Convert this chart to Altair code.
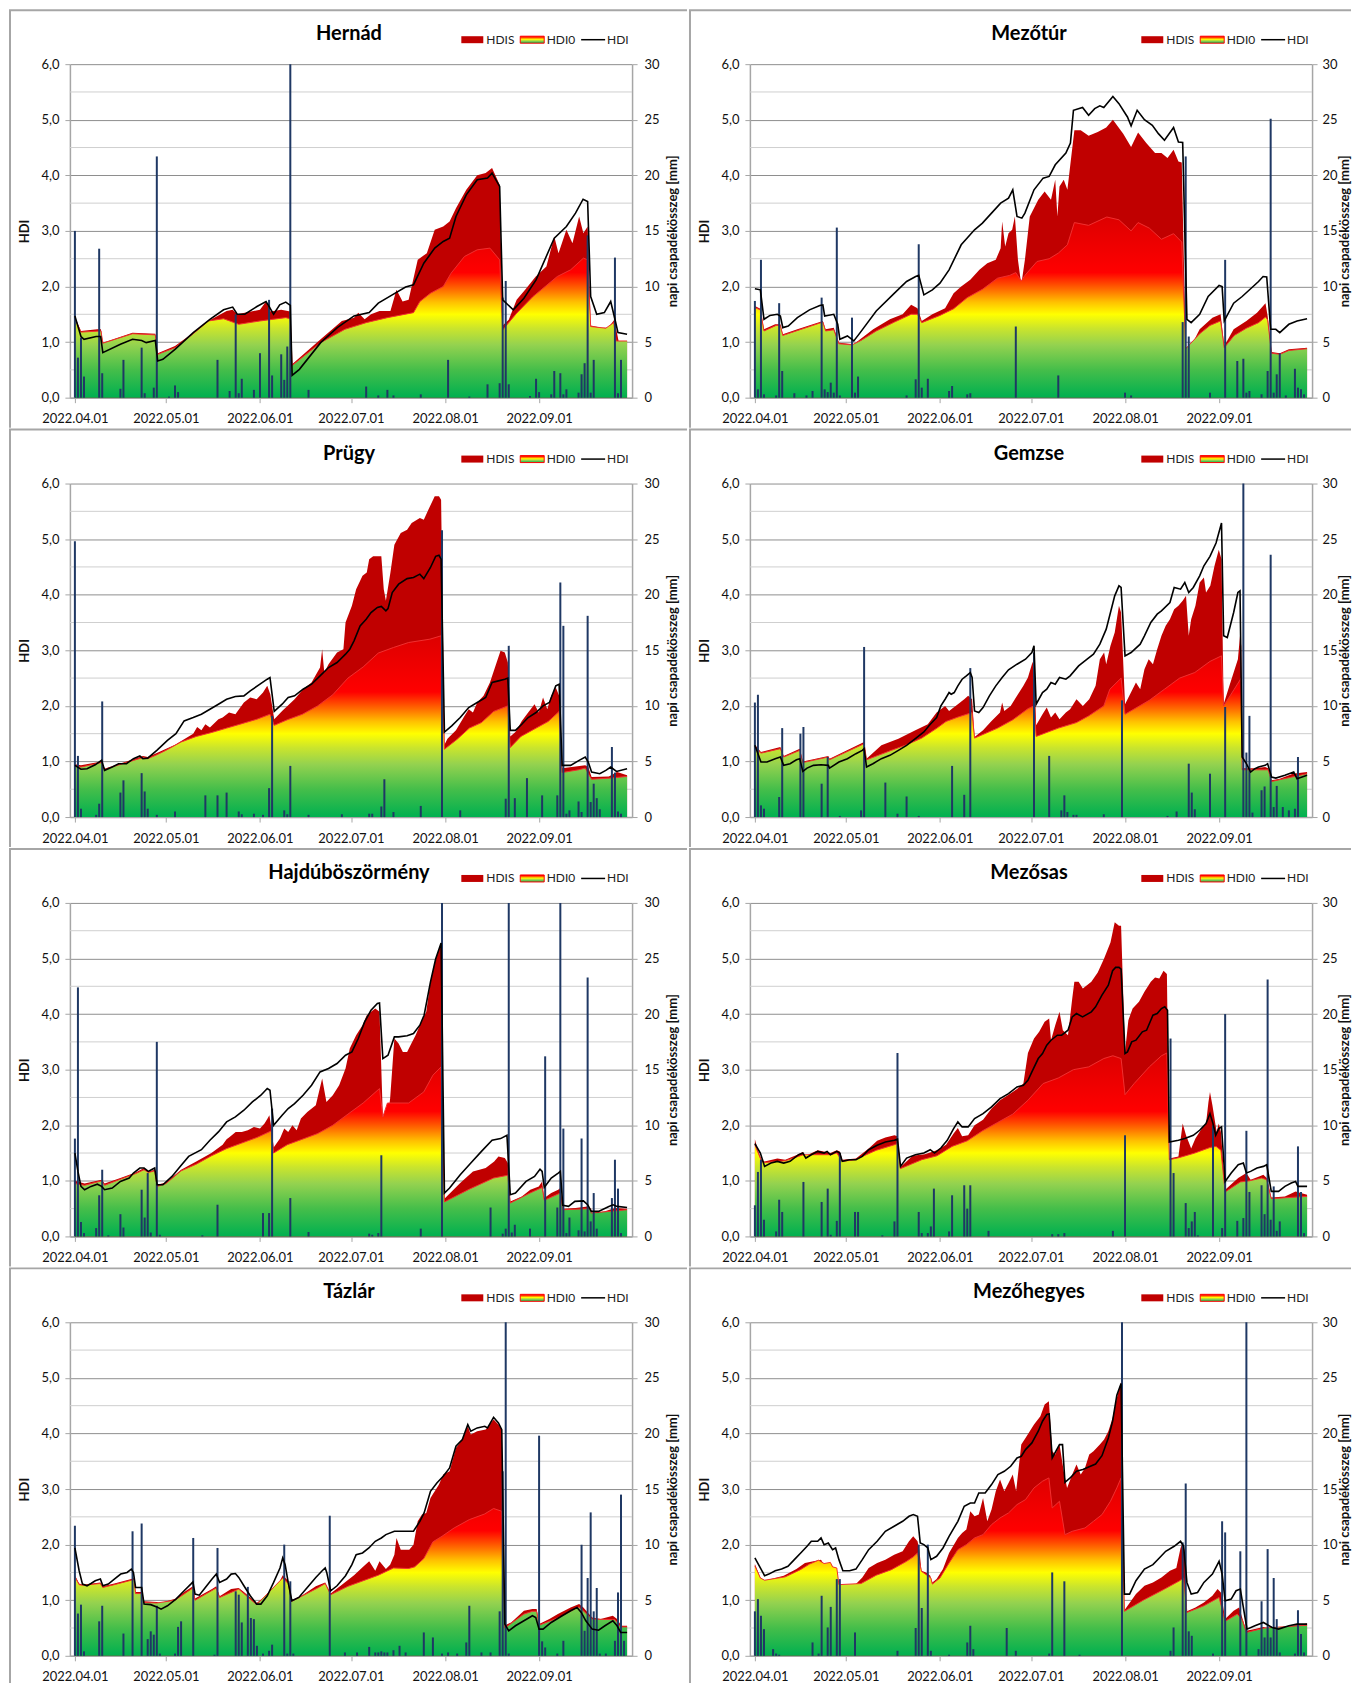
import altair as alt
import pandas as pd

# ---------------------------------------------------------------------------
# Values. "day" = days since 2022-04-01.
# HDI-type series: (day, HDI value); rain: (day, daily precipitation mm)
# ---------------------------------------------------------------------------
START = pd.Timestamp("2022-04-01")

TITLES = ["Hernád", "Mezőtúr", "Prügy", "Gemzse", "Hajdúböszörmény", "Mezősas", "Tázlár", "Mezőhegyes"]
Y_TICKS = [0, 1, 2, 3, 4, 5, 6]
Y_MINOR = [0.5, 1.5, 2.5, 3.5, 4.5, 5.5]
RAIN_TICKS = [0, 5, 10, 15, 20, 25, 30]
MONTH_STARTS = [4, 5, 6, 7, 8, 9]

HERNAD_HDI = [(0,1.47),(2,1.1),(3,1.05),(7,1.1),(8.5,1.1),(9.2,0.81),(15,0.96),(19,1.05),(22,1.03),(23.5,0.99),(26.5,1.03),(27.3,0.66),(29,0.69),(33,0.87),(39,1.17),(44.5,1.41),(49,1.58),(52,1.63),(53.5,1.5),(56,1.5),(60,1.64),(63,1.73),(64,1.64),(65.5,1.5),(67.5,1.67),(69.5,1.72),(71,1.66),(71.6,0.4),(74,0.51),(81,0.99),(86.5,1.26),(92,1.47),(97,1.53),(100,1.7),(104.6,1.85),(109,1.99),(111.6,2.03),(115,2.42),(118.6,2.69),(121.4,2.81),(123.5,2.87),(125.6,3.26),(129,3.65),(132.6,3.92),(136,3.95),(137.5,4.04),(140,3.8),(141,1.76),(144.5,1.58),(148,1.79),(152,2.12),(158,2.87),(162,3.08),(165,3.32),(167.5,3.57),(169,3.53),(170,1.82),(172,1.5),(174.5,1.53),(176.6,1.73),(178,1.41),(179,1.17),(182,1.14)]
HERNAD_HDIS = [(0,1.45),(2,1.2),(7.4,1.23),(8.6,1.23),(9.2,0.99),(19,1.17),(26.5,1.15),(27.3,0.8),(33,0.93),(39,1.17),(45,1.41),(50,1.56),(52,1.58),(53.5,1.5),(61,1.58),(63,1.73),(64.5,1.55),(68,1.58),(71,1.55),(71.6,0.6),(81,1.05),(88,1.38),(92,1.44),(93.4,1.53),(95.5,1.41),(97.6,1.5),(100.4,1.56),(104,1.56),(106,1.94),(108,1.73),(110,1.76),(113,2.48),(116,2.6),(118.6,3.02),(121.4,3.08),(123.5,3.17),(125.6,3.41),(129,3.74),(132.6,4.0),(135.4,4.04),(137.5,4.13),(140,3.83),(141,1.3),(143,1.4),(145.6,1.76),(148.4,1.94),(151.9,2.18),(155.4,2.36),(158,2.9),(159.4,2.6),(162,3.02),(164,2.78),(166.2,3.26),(167.6,2.96),(169,3.08),(170,1.3),(173.6,1.26),(175.8,1.26),(177.8,1.4),(179.2,1.02),(182,1.02)]
HERNAD_HDI0 = [(0,1.42),(2,1.18),(8.6,1.2),(9.2,0.98),(19,1.15),(26.5,1.13),(27.3,0.78),(33,0.9),(39,1.15),(44,1.38),(49,1.42),(54,1.32),(61,1.38),(69.5,1.44),(71,1.42),(71.6,0.58),(81,0.99),(89,1.23),(96,1.35),(103,1.44),(111.6,1.53),(113.7,1.73),(117.2,1.88),(121.4,2.0),(124,2.24),(128.4,2.54),(132.6,2.66),(136.8,2.69),(140,2.48),(141,1.22),(145.6,1.52),(151,1.82),(155,2.0),(159,2.18),(163.4,2.3),(167.6,2.51),(169,2.48),(170,1.28),(175,1.25),(177.6,1.35),(178.4,1.02),(182,1.02)]
HERNAD_RAIN = [(0,15.0),(1,3.6),(2,5.4),(3,1.9),(8,13.4),(9,2.2),(15,0.8),(16,3.4),(22,4.5),(23,0.4),(26,0.9),(27,21.7),(31,0.1),(33,1.1),(34,0.5),(47,3.4),(51,0.6),(53,7.5),(54,0.4),(55,1.7),(59,0.7),(61,4.0),(64,8.8),(65,2.0),(68,3.9),(69,1.6),(70,4.6),(71,32),(77,0.7),(96,1.0),(100,0.2),(103,0.7),(105,0.2),(114,0.3),(123,3.4),(130,0.1),(136,1.2),(140,1.3),(141,9.0),(142,10.5),(143,1.2),(150,0.15),(152,1.7),(153,0.5),(157,0.3),(158,2.4),(160,2.2),(161,0.3),(162,0.75),(166,0.45),(167,2.1),(168,3.1),(169,14.6),(170,0.45),(171,3.4),(178,12.6),(179,0.4),(180,3.4)]

MEZOTUR_HDI = [(0,1.96),(1.8,1.94),(3,1.41),(5,1.48),(7.4,1.5),(8.4,1.47),(9.2,1.26),(11,1.29),(14,1.44),(18,1.58),(21.4,1.66),(22.4,1.67),(23,1.47),(26,1.5),(27.3,1.32),(28,1.05),(30.5,1.11),(32.6,1.02),(34.7,1.17),(40,1.56),(46,1.88),(50,2.09),(53,2.18),(54,2.2),(55.7,1.85),(58.5,1.94),(61,2.06),(64,2.3),(68,2.75),(72.4,3.02),(75,3.14),(78,3.32),(81,3.5),(83.6,3.59),(85,3.74),(86.4,3.26),(88,3.23),(89,3.32),(92,3.74),(95,3.95),(97,3.98),(99,4.19),(102.5,4.4),(104,4.58),(105,5.17),(108,5.22),(110,5.08),(112,5.2),(113.7,5.25),(115,5.22),(118,5.42),(120,5.29),(122.8,5.05),(124,4.89),(126,5.17),(128.4,5.0),(131,4.9),(133,4.75),(135,4.63),(138,4.86),(139.6,4.6),(141,4.59),(142.4,1.41),(143.8,1.35),(146.6,1.5),(149.4,1.82),(153,2.02),(154,2.0),(154.7,1.38),(157.8,1.7),(160.6,1.82),(163.4,1.96),(166,2.09),(167.5,2.18),(168.7,2.17),(170,1.23),(171.7,1.23),(173,1.17),(176,1.32),(178.7,1.38),(182,1.42)]
MEZOTUR_HDIS = [(0,1.65),(1.8,1.6),(3,1.23),(6.7,1.32),(8.4,1.32),(9.2,1.14),(14,1.23),(21.4,1.36),(22.4,1.38),(23.3,1.23),(26,1.26),(27.7,0.99),(32.6,0.96),(34.7,1.05),(39,1.23),(44.5,1.41),(48.7,1.5),(51.5,1.67),(53.6,1.61),(55,1.38),(58.5,1.5),(62.7,1.61),(65.5,1.88),(68,2.0),(71,2.12),(74,2.3),(76.6,2.42),(79.4,2.48),(81,2.69),(81.5,3.17),(82.5,2.72),(83.6,2.96),(84.8,3.02),(85.7,3.26),(86.7,2.48),(87.8,2.03),(89,2.48),(90.6,3.26),(93.4,3.56),(95.5,3.71),(97.6,3.56),(99,3.92),(99.7,3.26),(100.4,3.8),(101.8,3.92),(103,3.74),(105.3,4.81),(107.4,4.81),(110,4.71),(113,4.78),(115.8,4.86),(118,5.0),(121.4,4.75),(124,4.51),(126.3,4.77),(129,4.58),(131.9,4.4),(134,4.4),(136,4.31),(138,4.46),(139.6,4.25),(140.7,4.23),(142,0.9),(143.8,0.93),(146.6,1.23),(150.8,1.44),(153.5,1.5),(154.7,0.93),(157.8,1.23),(162,1.38),(165.5,1.53),(168.3,1.7),(169,1.47),(170.3,0.82),(173,0.8),(176,0.87),(182,0.9)]
MEZOTUR_HDI0 = [(0,1.62),(1.8,1.58),(3,1.2),(7,1.3),(8.4,1.3),(9.2,1.12),(22.4,1.36),(23.3,1.2),(26,1.22),(27.7,0.97),(32,0.95),(35,1.03),(40,1.2),(46,1.36),(51.5,1.5),(53.6,1.5),(55,1.35),(61,1.48),(65.5,1.6),(70,1.8),(75,1.95),(80,2.15),(84,2.2),(86,2.25),(87.8,2.1),(89,2.2),(93,2.45),(97,2.5),(100,2.6),(103,2.75),(105.3,3.15),(110,3.1),(116,3.25),(120,3.2),(124,3.0),(126.3,3.15),(130,3.05),(134,2.85),(138,2.95),(140.7,2.8),(142,0.88),(146.6,1.15),(150,1.3),(153.5,1.38),(154.7,0.9),(158,1.12),(162,1.25),(166,1.35),(168.3,1.45),(169,1.4),(170.3,0.8),(173,0.78),(176,0.85),(182,0.88)]
MEZOTUR_RAIN = [(0,8.7),(1,0.75),(2,12.4),(3,0.3),(7,0.2),(8,8.5),(9,2.4),(13,0.4),(17,0.2),(19,0.6),(22,9.0),(23,0.75),(24,0.5),(25,1.35),(26,0.45),(27,15.3),(28,0.2),(32,7.2),(33,0.45),(34,1.9),(50,0.2),(53,1.65),(54,13.8),(55,0.9),(57,1.7),(64,0.6),(65,1.05),(70,0.3),(71,0.4),(86,6.4),(100,2.0),(122,0.45),(124,0.2),(141,6.8),(142,21.7),(143,5.5),(150,0.45),(155,12.4),(159,3.3),(161,3.5),(162,0.45),(163,0.6),(167,0.3),(169,2.4),(170,25.1),(171,0.45),(172,2.1),(173,4.0),(175,0.2),(178,2.6),(179,0.9),(180,0.75),(181,0.3)]

PRUGY_HDI = [(0,0.93),(2,0.86),(4,0.87),(6.7,0.94),(8.8,1.02),(9.8,0.84),(12.3,0.9),(14.4,0.96),(17,0.96),(19.3,1.05),(21.4,1.1),(22.4,1.05),(24,1.06),(27,1.2),(30.5,1.38),(33.3,1.5),(36,1.73),(39,1.79),(41.7,1.85),(44.5,1.94),(47.3,2.03),(50,2.12),(52.9,2.17),(55.7,2.18),(57.8,2.27),(61,2.39),(63.4,2.48),(64.3,2.51),(65.7,1.9),(68.3,2.03),(70.3,2.15),(72.4,2.18),(75.2,2.3),(78,2.39),(80.8,2.54),(83.6,2.69),(86.4,2.78),(89.2,2.93),(90.6,3.02),(92,3.17),(94,3.44),(96,3.56),(97.6,3.68),(99.7,3.77),(101,3.79),(102.5,3.71),(103.2,3.75),(104.6,4.04),(106.7,4.19),(109.5,4.29),(111.6,4.31),(113.7,4.37),(115,4.29),(117.2,4.49),(118.9,4.69),(120,4.71),(120.7,4.64),(121.8,1.53),(124.2,1.64),(127,1.79),(129.8,1.97),(132.6,2.06),(135.4,2.15),(137.5,2.42),(139.6,2.45),(141.7,2.48),(142.7,2.5),(143.5,1.56),(145.2,1.56),(147.3,1.67),(149.4,1.79),(152,1.88),(154.3,2.0),(156.4,2.06),(158.5,2.36),(159.6,2.39),(160.6,0.93),(163.4,0.93),(166.2,1.02),(168.2,1.08),(169.2,0.99),(170.3,0.81),(173,0.78),(175,0.84),(176.6,0.9),(178.5,0.82),(182,0.87)]
PRUGY_HDIS = [(0,0.95),(2,0.93),(8.8,1.0),(9.8,0.87),(17,1.0),(22.4,1.1),(24,1.08),(27,1.15),(33,1.3),(36,1.4),(39,1.5),(40.3,1.62),(41.7,1.56),(43,1.67),(44.5,1.61),(47.3,1.76),(48.7,1.79),(50.8,1.88),(52.9,1.85),(55.7,2.06),(57.8,2.15),(59.9,2.12),(62,2.24),(63.4,2.36),(64.4,2.21),(65.7,1.76),(68.3,1.91),(72.4,2.12),(75.2,2.3),(78,2.42),(80.8,2.69),(81.5,3.02),(82.2,2.6),(83.6,2.75),(86.4,2.96),(88.5,3.02),(89.2,3.5),(91.3,3.8),(92.7,4.1),(94.8,4.34),(96.2,4.4),(97,4.64),(98.3,4.69),(101,4.69),(101.8,4.1),(102.5,3.89),(104,4.4),(105.3,4.9),(107.4,5.11),(109.5,5.17),(111,5.29),(113.7,5.38),(115,5.35),(116.5,5.53),(118.6,5.77),(120,5.77),(120.7,5.71),(121.8,1.3),(122.8,1.41),(125.6,1.56),(128.4,1.82),(129.8,1.94),(131.2,1.88),(132.6,2.06),(134.7,2.18),(136.8,2.42),(139,2.78),(140.3,2.99),(141.7,2.96),(142.7,2.78),(143.5,1.45),(145.2,1.53),(147.3,1.73),(149.4,1.88),(151.5,2.03),(152.9,1.88),(154.3,2.15),(155.7,1.94),(157,2.18),(158.5,2.33),(159.6,2.18),(160.6,0.88),(168.2,0.93),(169.2,0.9),(170.3,0.72),(176,0.73),(178.7,0.81),(182,0.75)]
PRUGY_HDI0 = [(0,0.92),(2,0.9),(8.8,0.98),(9.8,0.86),(17,0.98),(22.4,1.07),(24,1.05),(27,1.12),(30,1.2),(35,1.35),(40,1.45),(45,1.52),(50,1.6),(55,1.68),(60,1.76),(64.3,1.85),(65.7,1.65),(70,1.75),(75,1.85),(80,2.0),(85,2.2),(90,2.5),(95,2.7),(100,2.95),(105,3.05),(110,3.14),(117,3.2),(120.7,3.26),(121.8,1.22),(126,1.4),(130,1.6),(134,1.7),(138,1.9),(142.7,2.0),(143.5,1.25),(147,1.45),(152,1.6),(156,1.72),(159.6,1.9),(160.6,0.8),(166,0.85),(168.2,0.88),(170.3,0.68),(176,0.7),(182,0.73)]
PRUGY_RAIN = [(0,24.8),(1,5.5),(2,0.75),(7,0.2),(8,1.2),(9,10.4),(15,2.2),(16,3.3),(22,3.95),(23,2.3),(24,0.75),(27,0.2),(33,0.5),(43,1.95),(47,1.95),(50,2.2),(54,0.5),(55,0.25),(59,0.3),(62,0.2),(64,2.6),(65,9.1),(69,0.6),(70,0.25),(71,4.6),(77,0.2),(88,0.25),(97,0.3),(98,0.3),(101,0.95),(102,3.4),(105,0.45),(114,1.0),(121,25.8),(127,0.6),(142,1.65),(143,15.4),(145,1.7),(149,3.5),(154,1.95),(159,1.95),(160,21.1),(161,17.2),(162,0.3),(163,0.6),(166,1.4),(167,0.45),(169,18.1),(170,1.35),(171,3.0),(172,1.7),(173,0.7),(177,6.3),(178,4.0),(179,0.5),(180,0.3)]

GEMZSE_HDI = [(0,1.29),(2,0.99),(4,0.99),(6.7,1.05),(8.4,1.08),(9.5,0.93),(11.6,0.96),(13.7,1.03),(14.8,1.05),(15.8,0.82),(17.2,0.88),(19.3,0.93),(21.8,0.94),(24.2,0.93),(24.6,0.88),(27.7,0.99),(30.5,1.05),(33.3,1.14),(35.4,1.2),(36,1.23),(36.8,0.9),(38.9,0.96),(41.7,1.05),(44.5,1.11),(47.3,1.2),(50,1.29),(52.9,1.41),(55.7,1.53),(57.8,1.67),(59.9,1.79),(61.3,2.0),(62.7,2.12),(64,2.24),(64.7,2.21),(65.7,2.24),(66.9,2.36),(68.3,2.48),(69.7,2.54),(71,2.6),(71.6,2.51),(72.4,1.91),(73.8,1.88),(75.2,1.97),(77.3,2.18),(79.4,2.36),(81.5,2.51),(83.6,2.65),(86.4,2.75),(89.2,2.84),(91.3,2.96),(92,3.08),(92.7,2.03),(94.8,2.24),(96.2,2.3),(97.6,2.42),(99,2.39),(100.4,2.51),(102.5,2.48),(103.9,2.54),(106.7,2.72),(109.5,2.84),(111.6,2.93),(113.7,3.11),(115.8,3.38),(117.2,3.68),(118.6,3.98),(120,4.16),(120.7,4.13),(122,2.9),(124,2.96),(127,3.11),(128.4,3.26),(130.5,3.5),(132.6,3.65),(134,3.71),(136.8,3.86),(138.2,4.13),(140.3,4.1),(141.7,4.22),(143,4.04),(144.5,4.13),(146.6,4.34),(148,4.52),(150,4.69),(152,4.93),(153.8,5.29),(154.5,3.26),(155.7,3.23),(157.8,3.68),(159.2,4.04),(159.9,4.07),(160.6,1.08),(162,0.96),(163.4,0.81),(164.8,0.87),(166,0.9),(168.2,0.93),(169,0.96),(170.3,0.72),(171.7,0.7),(174.7,0.75),(177.6,0.81),(178.7,0.69),(182,0.75)]
GEMZSE_HDIS = [(0,1.3),(2,1.17),(8.4,1.26),(9.5,1.1),(14.8,1.23),(15.8,1.0),(24.2,1.1),(24.6,1.05),(36,1.35),(36.8,1.05),(41.7,1.29),(47.3,1.41),(52.9,1.56),(57,1.67),(59.9,1.88),(62.7,2.0),(64,1.91),(66.9,2.03),(69,2.12),(70.3,2.18),(71.6,2.12),(72.4,1.44),(75.2,1.56),(78,1.73),(80.8,1.88),(81.5,2.06),(82.2,1.91),(84.3,2.0),(86.4,2.18),(88.5,2.36),(90,2.51),(91.3,2.75),(92,2.84),(92.7,1.65),(94.8,1.85),(96.2,1.97),(97.6,1.79),(99,1.88),(100.4,1.76),(102.5,1.88),(103.9,1.94),(106,2.12),(108.1,2.0),(110.2,2.12),(112.3,2.36),(113.7,2.84),(115.1,2.96),(115.8,2.75),(117.2,3.08),(118.6,3.32),(120,3.8),(120.7,3.68),(122,2.03),(125.6,2.42),(127,2.3),(128.4,2.66),(129.8,2.84),(131.2,2.75),(132.6,3.02),(134,3.26),(135.4,3.44),(136.8,3.56),(138.2,3.74),(139.6,3.8),(141,3.89),(142.1,3.98),(143,3.26),(143.8,3.56),(145.2,3.8),(146.6,4.22),(148,4.31),(148.7,4.04),(150.1,4.16),(151.5,4.52),(152.9,4.81),(153.8,4.64),(154.5,2.03),(156.4,2.36),(157.8,2.6),(159.2,2.84),(159.9,3.26),(160.3,3.08),(160.6,0.88),(164.8,0.88),(168.2,0.9),(169.2,0.88),(170.3,0.66),(173,0.69),(177.3,0.78),(182,0.81)]
GEMZSE_HDI0 = [(0,1.25),(2,1.15),(8.4,1.23),(9.5,1.08),(14.8,1.2),(15.8,0.98),(24.2,1.08),(24.6,1.03),(36,1.32),(36.8,1.03),(45,1.2),(50,1.3),(55,1.42),(60,1.6),(63,1.72),(67,1.8),(71.6,1.88),(72.4,1.42),(80,1.6),(85,1.75),(90,1.95),(92,2.0),(92.7,1.45),(100,1.6),(106,1.7),(110,1.82),(115,2.0),(117,2.3),(120.7,2.5),(122,1.85),(130,2.1),(135,2.3),(140,2.5),(145,2.6),(150,2.8),(153.8,2.9),(154.5,2.0),(158,2.3),(160.3,2.5),(160.6,0.85),(169.2,0.85),(170.3,0.64),(177,0.72),(182,0.78)]
GEMZSE_RAIN = [(0,10.3),(1,11.0),(2,1.05),(3,0.75),(8,1.8),(9,8.0),(15,7.5),(16,8.1),(22,3.0),(24,5.4),(28,0.1),(35,0.6),(36,15.3),(43,3.1),(47,0.3),(50,1.85),(54,0.1),(65,4.6),(69,2.0),(71,13.4),(92,14.8),(97,5.5),(101,0.6),(102,1.95),(103,0.45),(105,0.2),(106,0.2),(115,0.25),(121,10.5),(136,0.1),(139,0.5),(143,4.8),(144,2.2),(145,0.7),(150,3.9),(155,9.9),(161,32),(162,5.8),(163,9.1),(164,0.4),(167,2.4),(168,2.75),(170,23.6),(171,0.9),(172,2.8),(174,0.9),(176,0.6),(178,0.75),(179,5.4)]

HAJDU_HDI = [(0,1.5),(1,1.17),(2,0.9),(3.2,0.84),(5.3,0.9),(7.4,0.94),(8.8,0.9),(9.8,0.84),(12.3,0.87),(15,0.99),(17.9,1.05),(19.3,1.14),(21.4,1.23),(22.8,1.23),(24.2,1.17),(25.2,1.2),(26.3,1.23),(27.1,0.93),(29,0.93),(32,1.08),(34.7,1.26),(37.5,1.44),(41.7,1.56),(44.5,1.73),(47.3,1.88),(50,2.06),(52.9,2.15),(55.7,2.27),(58.5,2.42),(61.3,2.54),(63.4,2.66),(64.3,2.63),(65.5,2.0),(68.3,2.18),(70.3,2.3),(72.4,2.39),(75.2,2.54),(78,2.72),(80.8,2.96),(83.6,3.02),(86.4,3.11),(89.2,3.26),(91.3,3.32),(93.4,3.56),(95.5,3.86),(97.6,4.07),(99.7,4.19),(100.4,4.2),(101.5,3.2),(103.2,3.26),(105.3,3.59),(106.7,3.59),(109.5,3.61),(111.6,3.65),(113.7,3.8),(115.1,3.98),(117.2,4.58),(118.9,4.99),(120.7,5.28),(121.8,0.78),(123.5,0.87),(127,1.11),(130.5,1.32),(134,1.53),(137.5,1.73),(140.3,1.76),(142.4,1.82),(143.5,0.75),(145.2,0.78),(148.7,0.99),(151.5,1.08),(153.3,1.21),(154,1.17),(154.7,0.88),(157,1.05),(159.3,1.14),(160,1.17),(160.8,0.56),(162.7,0.54),(164.8,0.63),(167.6,0.64),(169,0.57),(170.2,0.45),(172.6,0.45),(176,0.54),(177.4,0.57),(178.7,0.54),(182,0.52)]
HAJDU_HDIS = [(0,1.0),(3.2,0.95),(8.8,1.02),(9.8,0.95),(15,1.05),(20,1.15),(22.8,1.23),(24.2,1.17),(26.3,1.2),(27.1,0.93),(30,0.97),(35,1.2),(40,1.35),(45,1.5),(48.7,1.65),(50,1.75),(51,1.79),(53,1.88),(55,1.88),(57,1.91),(59,1.97),(61,1.94),(62.5,2.03),(63.5,2.12),(64.1,2.18),(64.8,1.94),(65.5,1.6),(67.6,1.76),(69,1.94),(70.3,1.88),(71.7,2.0),(73.1,1.91),(74.5,2.12),(76.6,2.24),(79.4,2.36),(81.5,2.84),(82.9,2.42),(85,2.54),(87.1,2.72),(89.2,3.02),(90.6,3.38),(92.7,3.62),(94.8,3.8),(96.2,3.98),(97.6,4.04),(99,4.1),(100.4,4.04),(101.5,2.15),(103.2,2.18),(103.9,2.48),(105.3,3.56),(106.7,3.47),(108.1,3.32),(109.5,3.32),(110.9,3.47),(112.3,3.62),(113.7,3.8),(115.8,4.04),(117.2,4.58),(118.9,4.99),(120.7,5.29),(121.8,0.68),(127,0.96),(131.2,1.17),(135.4,1.23),(138.2,1.35),(139.6,1.44),(141.7,1.41),(142.7,1.32),(143.5,0.63),(147.3,0.72),(150.1,0.84),(152.9,0.9),(154,0.99),(154.7,0.69),(157,0.78),(159.3,0.84),(160,0.87),(160.8,0.5),(165,0.51),(169,0.54),(170.2,0.42),(174.5,0.45),(178,0.51),(182,0.5)]
HAJDU_HDI0 = [(0,0.95),(3.2,0.92),(8.8,1.0),(9.8,0.92),(15,1.03),(20,1.13),(22.8,1.2),(24.2,1.15),(26.3,1.18),(27.1,0.9),(30,0.95),(35,1.18),(40,1.3),(45,1.45),(50,1.58),(55,1.68),(60,1.78),(64.8,1.9),(65.5,1.5),(70,1.65),(75,1.75),(80,1.85),(85,2.0),(90,2.2),(95,2.4),(100.4,2.66),(101.5,2.15),(103,2.4),(110,2.4),(115,2.6),(118,2.9),(120.7,3.05),(121.8,0.62),(130,0.85),(138,1.05),(142.7,1.1),(143.5,0.6),(150,0.78),(154,0.88),(154.7,0.65),(160,0.78),(160.8,0.48),(170,0.5),(170.2,0.42),(182,0.48)]
HAJDU_RAIN = [(0,8.8),(1,22.4),(2,1.3),(3,0.3),(7,0.75),(8,3.7),(9,6.0),(11,0.1),(15,2.0),(16,0.8),(22,4.2),(23,1.7),(24,5.7),(25,0.35),(27,17.5),(28,0.15),(42,0.1),(47,2.85),(62,2.1),(64,2.1),(65,11.5),(71,3.45),(77,0.4),(97,0.25),(98,0.15),(100,0.3),(101,7.3),(114,0.7),(121,32),(137,2.6),(141,0.25),(142,0.7),(143,32),(144,0.35),(145,1.05),(150,0.7),(155,16.2),(159,2.6),(160,32),(161,9.7),(162,0.3),(163,1.7),(166,0.55),(167,8.8),(168,0.45),(169,23.3),(170,1.35),(171,3.9),(172,0.7),(177,3.45),(178,6.9),(179,4.3),(180,0.3)]

MEZOSAS_HDI = [(0,1.67),(1.8,1.5),(3.2,1.26),(5.3,1.32),(7.4,1.35),(9.5,1.32),(11.6,1.35),(14.4,1.47),(15.8,1.5),(16.8,1.41),(18.6,1.47),(20.7,1.53),(22.8,1.5),(23.8,1.53),(24.9,1.47),(27,1.53),(28,1.5),(28.8,1.35),(31.2,1.38),(33.3,1.38),(35.4,1.44),(37.5,1.56),(40.3,1.64),(43,1.7),(46,1.73),(47,1.75),(48,1.26),(50,1.41),(52.9,1.47),(55.7,1.5),(57.8,1.56),(59.2,1.5),(61.3,1.59),(63.4,1.73),(65.5,1.94),(66.9,2.06),(68.3,1.97),(70.3,1.97),(72.4,2.12),(75.2,2.21),(78,2.33),(80.8,2.48),(83.6,2.57),(86.4,2.69),(88.5,2.72),(90,2.81),(91.3,2.96),(93.4,3.2),(94.8,3.29),(96.2,3.44),(97.6,3.53),(99.7,3.62),(101.1,3.62),(103.2,3.71),(104.6,3.95),(106,4.01),(108,3.95),(110.9,4.04),(112.3,4.13),(114.4,4.34),(116.5,4.52),(117.9,4.78),(118.9,4.84),(120,4.84),(120.7,4.81),(122,3.29),(122.8,3.32),(124.2,3.5),(125.6,3.53),(127.7,3.68),(129.1,3.71),(131.2,3.98),(132.6,4.01),(134,4.1),(135.1,4.13),(136,4.07),(136.6,1.7),(139.6,1.73),(141.7,1.76),(144.5,1.82),(146.6,1.91),(148.7,2.03),(150,2.21),(151,2.03),(151.9,1.82),(152.9,1.94),(153.8,1.97),(155,0.99),(157,1.14),(159.3,1.29),(161,1.32),(162,1.14),(163.4,1.17),(165.5,1.23),(167.6,1.26),(168.7,1.29),(170.2,0.81),(172.6,0.81),(174.7,0.9),(176.8,0.96),(178.2,0.99),(179,0.9),(182,0.9)]
MEZOSAS_HDIS = [(0,1.75),(1,1.55),(2.2,1.38),(3.2,1.35),(7.4,1.4),(10,1.38),(14.4,1.48),(15.8,1.52),(16.8,1.45),(20.7,1.55),(24.9,1.5),(27,1.55),(28,1.53),(28.8,1.38),(33.3,1.4),(37.5,1.58),(40.3,1.72),(43,1.78),(46,1.82),(47,1.8),(48,1.25),(52,1.45),(56,1.48),(60,1.55),(63,1.65),(65.5,1.85),(66.9,1.95),(68.3,1.8),(70.3,1.82),(72.4,2.0),(75.2,2.1),(78,2.3),(80.8,2.45),(83.6,2.55),(86.4,2.65),(88.5,2.75),(90,3.3),(92,3.56),(93.7,3.68),(95.5,3.86),(97,3.92),(97.6,3.53),(99,3.8),(100.4,4.04),(101.5,3.71),(103.2,3.62),(104.6,4.28),(105.3,4.58),(106.7,4.58),(108.1,4.46),(110.9,4.58),(113,4.75),(115.1,5.0),(117.2,5.29),(118.6,5.65),(120,5.59),(120.7,5.59),(122,3.32),(123.1,3.89),(124.5,4.1),(126.6,4.22),(128.4,4.4),(130.5,4.58),(131.9,4.66),(133.3,4.64),(134.7,4.78),(135.8,4.72),(136.6,1.4),(139.6,1.44),(141,2.03),(142.1,1.82),(143.8,1.58),(145.2,1.76),(147.3,1.94),(148.7,2.03),(149.5,2.42),(150,2.6),(150.8,2.36),(152.2,1.88),(152.9,2.03),(153.6,1.88),(155,0.84),(159.3,1.05),(162,1.14),(163.4,1.02),(166.2,1.08),(167.6,1.11),(168.7,1.05),(170.2,0.7),(174.7,0.72),(178.2,0.81),(182,0.75)]
MEZOSAS_HDI0 = [(0,1.65),(2.2,1.35),(3.2,1.33),(10,1.36),(16,1.47),(25,1.47),(27,1.5),(28.8,1.35),(33,1.38),(40,1.55),(46,1.65),(47,1.67),(48,1.22),(55,1.38),(60,1.45),(65,1.62),(70,1.72),(75,1.9),(80,2.05),(85,2.2),(90,2.45),(95,2.75),(100,2.85),(105,3.0),(110,3.05),(115,3.2),(118,3.25),(120.7,3.2),(122,2.55),(125,2.75),(130,3.05),(134,3.25),(135.8,3.3),(136.6,1.38),(140,1.42),(145,1.5),(150,1.6),(152,1.62),(153.6,1.55),(155,0.8),(160,0.98),(163,1.0),(167,1.05),(168.7,1.02),(170.2,0.68),(182,0.72)]
MEZOSAS_RAIN = [(0,2.8),(1,5.8),(2,6.9),(3,1.5),(7,0.45),(8,3.3),(9,2.2),(16,4.9),(22,3.1),(24,4.3),(25,0.15),(27,1.4),(28,7.5),(33,2.2),(34,2.2),(42,0.1),(46,1.35),(47,16.5),(54,2.2),(55,0.3),(57,0.3),(58,0.9),(59,4.3),(64,0.45),(65,3.7),(69,4.6),(70,2.5),(71,4.6),(77,0.5),(98,0.2),(100,0.2),(102,0.3),(118,0.5),(122,9.1),(137,17.8),(138,5.7),(142,3.0),(143,0.75),(144,1.35),(145,2.2),(146,0.1),(151,10.0),(154,0.75),(155,20.0),(159,1.4),(161,1.65),(162,9.5),(163,4.0),(167,4.6),(168,2.0),(169,23.1),(170,1.5),(171,4.5),(172,0.5),(173,1.35),(179,8.1),(180,4.0),(181,0.3)]

TAZLAR_HDI = [(0,1.94),(1.4,1.53),(2.5,1.29),(4,1.26),(5.3,1.3),(6.7,1.35),(8.4,1.38),(9.2,1.26),(11,1.29),(13,1.38),(15.1,1.47),(17.2,1.5),(18.6,1.56),(19.3,1.5),(20,1.23),(22,1.23),(22.8,0.93),(25,0.92),(27,0.88),(28.4,0.84),(30.5,0.9),(33.3,1.02),(36,1.17),(38.2,1.29),(38.9,1.33),(39.6,1.11),(41,1.09),(43,1.23),(45.2,1.38),(46.6,1.47),(47.7,1.32),(50,1.38),(51.5,1.47),(52.9,1.48),(54,1.41),(55.7,1.26),(57.8,1.08),(59.9,0.93),(61.3,0.93),(63.4,1.08),(65.5,1.32),(67.6,1.58),(68.5,1.76),(69.3,1.64),(70.3,1.32),(71.5,0.99),(73.8,1.05),(76.6,1.23),(79.4,1.41),(81.5,1.53),(82.5,1.58),(83,1.5),(84.3,1.17),(86.4,1.26),(89.2,1.44),(91.3,1.64),(92.7,1.82),(94.8,1.85),(96.9,1.94),(99,2.06),(101,2.12),(102.5,2.18),(105.3,2.24),(108,2.24),(111.6,2.24),(113.7,2.42),(115.1,2.57),(117.2,2.96),(119.3,3.11),(121.4,3.23),(123.5,3.38),(125.6,3.77),(127.7,3.89),(129.5,4.16),(130.5,4.04),(132.6,4.1),(135.1,4.13),(136,4.1),(138,4.29),(139.6,4.19),(140.7,4.07),(141.7,0.57),(143,0.45),(145.2,0.54),(148,0.63),(150.8,0.72),(151.9,0.69),(153,0.48),(154.3,0.48),(157,0.6),(160.6,0.72),(163.4,0.81),(165.5,0.87),(166.9,0.78),(168.4,0.63),(170.5,0.48),(172.6,0.46),(174.7,0.54),(177.3,0.63),(178.7,0.54),(179.9,0.42),(182,0.42)]
TAZLAR_HDIS = [(0,1.45),(1.4,1.3),(2.5,1.28),(8.4,1.32),(9.2,1.25),(13,1.3),(18.6,1.38),(19.5,1.4),(20,1.15),(22,1.15),(22.8,0.98),(27,0.97),(28.4,0.95),(33.3,1.03),(36,1.15),(38.9,1.25),(39.6,1.03),(45.2,1.2),(46.6,1.25),(47.7,1.07),(51.5,1.2),(54,1.22),(55.7,1.15),(57.8,1.05),(59.9,0.95),(63.4,1.1),(67.6,1.35),(68.5,1.45),(70.3,1.35),(71.5,1.0),(75.2,1.1),(79.4,1.25),(82.5,1.32),(84.3,1.12),(88,1.28),(92,1.45),(95,1.6),(97,1.7),(99,1.53),(100.4,1.7),(102.5,1.56),(103.9,1.64),(105.3,1.82),(106,2.12),(107.4,1.91),(110.2,1.91),(111.6,2.0),(113,2.42),(114.4,2.54),(115.8,2.57),(117.2,2.84),(118.6,2.96),(120,3.08),(121.4,3.26),(123.5,3.32),(125.6,3.74),(127.7,3.89),(129.5,4.13),(130.5,3.98),(132.6,4.04),(135.4,4.07),(138,4.25),(139.6,4.16),(140.7,4.07),(141.7,0.55),(143.8,0.6),(148,0.81),(150.8,0.84),(152.2,0.84),(153,0.57),(156.4,0.66),(159.2,0.75),(163.4,0.87),(166.2,0.93),(167.6,0.87),(169,0.78),(170.5,0.69),(173.3,0.66),(177.3,0.72),(178.7,0.66),(180.1,0.54),(182,0.54)]
TAZLAR_HDI0 = [(0,1.42),(1.4,1.28),(2.5,1.27),(8.4,1.3),(9.2,1.23),(13,1.28),(18.6,1.36),(19.5,1.38),(20,1.12),(22,1.12),(22.8,0.96),(27,0.95),(33,1.0),(38.9,1.22),(39.6,1.0),(46.6,1.22),(47.7,1.05),(54,1.2),(59.9,0.92),(68.5,1.4),(70.3,1.3),(71.5,0.98),(80,1.22),(82.5,1.3),(84.3,1.1),(90,1.25),(95,1.35),(100,1.45),(105,1.58),(110,1.57),(112,1.6),(115,1.75),(118,2.05),(121,2.15),(125,2.3),(130,2.45),(135,2.55),(138,2.65),(140.7,2.6),(141.7,0.5),(148,0.75),(150.8,0.8),(152.2,0.8),(153,0.55),(160,0.7),(165,0.85),(166.2,0.88),(170.5,0.66),(178,0.65),(179.9,0.52),(182,0.52)]
TAZLAR_RAIN = [(0,11.7),(1,3.8),(2,4.6),(3,0.4),(8,3.1),(9,4.5),(16,2.0),(19,11.2),(22,11.9),(24,1.5),(25,2.2),(26,1.9),(27,4.5),(28,0.2),(33,0.2),(34,2.6),(35,3.1),(39,10.6),(46,0.1),(47,9.7),(53,5.8),(54,5.5),(55,3.0),(57,6.2),(58,3.4),(59,3.3),(60,0.9),(62,0.2),(64,0.45),(65,1.0),(69,10.0),(70,0.2),(71,6.7),(72,0.2),(84,12.6),(89,0.3),(93,0.3),(97,0.8),(99,0.3),(100,0.3),(101,0.4),(102,0.3),(103,0.3),(105,0.5),(107,0.9),(109,0.3),(115,2.1),(118,1.65),(121,0.2),(123,0.3),(126,0.2),(129,1.2),(130,4.5),(134,0.3),(137,0.3),(140,4.0),(141,16.6),(142,32),(143,0.2),(153,19.8),(154,1.3),(155,0.75),(159,0.2),(161,1.35),(167,10.0),(168,2.25),(169,7.0),(170,12.9),(171,4.0),(172,6.1),(173,0.2),(175,0.2),(178,1.35),(179,5.7),(180,14.5),(181,1.35)]

MEZOHEGYES_HDI = [(0,1.76),(1.8,1.58),(3.2,1.44),(4.6,1.47),(6.7,1.53),(8.8,1.56),(10.9,1.61),(13,1.73),(15.1,1.85),(17.2,1.97),(18.6,2.06),(20.7,2.06),(21.8,2.12),(22.8,2.0),(24.2,2.03),(25.6,1.91),(26.6,1.94),(27.7,1.73),(29,1.53),(31.2,1.53),(33.3,1.56),(35.4,1.73),(37.5,1.91),(40.3,2.06),(43,2.24),(45.9,2.33),(48.7,2.42),(50.8,2.51),(52.2,2.54),(53.6,2.51),(54.5,2.03),(55.7,2.0),(57,1.94),(58,1.73),(59.9,1.79),(62,1.94),(64,2.15),(66.9,2.42),(69,2.69),(71,2.75),(72.4,2.75),(73.8,2.93),(75.9,2.93),(78,3.08),(80.1,3.26),(82.2,3.32),(84.3,3.41),(86.4,3.56),(87.8,3.59),(89.2,3.71),(91.3,3.83),(93.4,4.04),(94.8,4.22),(96.2,4.34),(97,4.35),(98,3.56),(100.4,3.8),(101.4,3.8),(102.2,3.12),(103.9,3.2),(106,3.32),(108.1,3.35),(110.2,3.4),(112.3,3.45),(114.4,3.6),(116.5,3.92),(117.9,4.22),(119.3,4.69),(120.7,4.9),(121.8,1.11),(123.5,1.11),(125.6,1.35),(128.4,1.56),(131.2,1.64),(133.3,1.76),(135.4,1.88),(138.2,1.97),(140.3,2.06),(141.3,1.97),(142.4,1.32),(143.8,1.11),(145.9,1.14),(148,1.32),(150.8,1.47),(153,1.7),(154,1.47),(155,0.99),(157,1.02),(158.6,1.17),(160,1.2),(161,0.87),(162.2,0.48),(164.8,0.54),(167.6,0.6),(170.5,0.51),(172.6,0.48),(176,0.54),(178.7,0.57),(182,0.57)]
MEZOHEGYES_HDIS = [(0,1.65),(1.8,1.41),(3.2,1.35),(5.3,1.38),(9.5,1.44),(13.7,1.56),(16.5,1.67),(19.3,1.7),(21.8,1.73),(22.8,1.64),(24.9,1.67),(25.6,1.61),(27,1.44),(27.7,1.26),(30.5,1.26),(33.3,1.29),(35.4,1.41),(37.5,1.58),(40.3,1.67),(43,1.73),(45.9,1.82),(48.7,1.88),(50.8,2.06),(52.2,2.15),(53.6,2.06),(54.2,1.91),(54.9,1.53),(56.4,1.5),(57.8,1.44),(58.5,1.32),(59.9,1.38),(62,1.56),(64,1.85),(66.9,2.12),(68.3,2.21),(69.7,2.27),(71,2.6),(72.4,2.51),(73.8,2.54),(75.2,2.84),(76.6,2.42),(78,2.63),(79.4,2.96),(80.8,3.17),(82.2,2.96),(83.6,3.11),(85,3.26),(86.1,2.96),(87.8,3.8),(89.2,3.92),(90.6,4.04),(92,4.16),(94.1,4.31),(95.5,4.52),(96.9,4.58),(98,3.68),(99,3.62),(100.4,3.8),(101.8,3.32),(102.9,3.02),(104.6,3.26),(106,3.44),(107.4,3.26),(108.8,3.38),(110.2,3.62),(111.6,3.68),(113.7,3.8),(115.1,3.89),(116.5,4.04),(117.9,4.28),(119.3,4.64),(120.7,4.93),(121.8,0.82),(125.6,1.11),(128.4,1.26),(131.2,1.32),(134,1.41),(136.8,1.53),(138.9,1.58),(140.3,1.94),(141,2.03),(141.7,1.88),(142.4,0.8),(145.2,0.87),(148,0.96),(150.8,1.08),(152.5,1.2),(153.6,1.14),(155,0.66),(157.8,0.81),(159.6,0.87),(160.6,0.69),(162,0.45),(164.8,0.48),(167.6,0.52),(170.2,0.48),(173.3,0.46),(177.4,0.54),(182,0.58)]
MEZOHEGYES_HDI0 = [(0,1.62),(1.8,1.4),(3.2,1.36),(10,1.42),(15,1.55),(18,1.65),(21,1.72),(22.8,1.66),(24.9,1.68),(25.6,1.6),(27,1.58),(27.7,1.28),(35,1.3),(40,1.45),(45,1.55),(50,1.7),(52.2,1.78),(53.6,1.85),(54.9,1.52),(58,1.4),(58.5,1.29),(61,1.4),(64,1.67),(66.9,1.91),(69.7,2.0),(72.4,2.12),(75.2,2.18),(78,2.36),(80.8,2.48),(83.6,2.57),(86.4,2.72),(89.2,2.81),(92,3.02),(94.8,3.14),(96.9,3.2),(98,2.66),(100.4,2.78),(102.2,2.18),(104.6,2.24),(108.8,2.3),(111.6,2.42),(114.4,2.54),(117.2,2.78),(119.3,3.02),(120.7,3.2),(121.8,0.8),(128,1.0),(135,1.2),(140,1.35),(141.3,1.4),(142.4,0.78),(148,0.9),(153,1.05),(155,0.62),(159,0.75),(160.6,0.65),(162,0.42),(168,0.5),(182,0.55)]
MEZOHEGYES_RAIN = [(0,4.0),(1,5.1),(2,3.6),(3,2.4),(6,0.6),(7,0.2),(8,0.1),(19,1.2),(21,0.2),(22,5.4),(24,2.55),(25,4.4),(27,6.9),(28,6.9),(33,2.1),(47,0.45),(53,2.5),(54,10.0),(55,4.3),(57,10.0),(58,0.45),(64,0.1),(70,1.2),(71,2.7),(72,0.6),(83,2.5),(86,0.45),(97,0.2),(98,7.5),(102,6.7),(107,0.1),(121,32),(137,0.45),(138,2.55),(141,10.2),(142,15.5),(143,2.2),(144,1.8),(151,0.2),(154,12.1),(155,11.1),(160,9.4),(162,32),(166,0.6),(167,4.9),(168,1.65),(169,9.6),(170,1.65),(171,7.0),(172,3.3),(173,0.3),(178,0.2),(179,4.1),(180,1.95),(181,0.3)]

SERIES = [
    (HERNAD_HDIS, HERNAD_HDI0, HERNAD_HDI, HERNAD_RAIN),
    (MEZOTUR_HDIS, MEZOTUR_HDI0, MEZOTUR_HDI, MEZOTUR_RAIN),
    (PRUGY_HDIS, PRUGY_HDI0, PRUGY_HDI, PRUGY_RAIN),
    (GEMZSE_HDIS, GEMZSE_HDI0, GEMZSE_HDI, GEMZSE_RAIN),
    (HAJDU_HDIS, HAJDU_HDI0, HAJDU_HDI, HAJDU_RAIN),
    (MEZOSAS_HDIS, MEZOSAS_HDI0, MEZOSAS_HDI, MEZOSAS_RAIN),
    (TAZLAR_HDIS, TAZLAR_HDI0, TAZLAR_HDI, TAZLAR_RAIN),
    (MEZOHEGYES_HDIS, MEZOHEGYES_HDI0, MEZOHEGYES_HDI, MEZOHEGYES_RAIN),
]

# ---------------------------------------------------------------------------
# Styling
# ---------------------------------------------------------------------------
FONT = "Lato"
W, H = 563, 334
HDI_MAX = 6.0
DARK_RED = "#C00000"
RAIN_COLOR = "#1F3864"
FRAME = "#a6a6a6"
# colour ramp of the HDI0 fill, in HDI units (absolute, like the original)
RAMP = [(0.0, "#00B050"), (0.5, "#45BE4A"), (0.95, "#94D24F"), (1.25, "#CBE52C"),
        (1.5, "#FFFF00"), (1.72, "#FFC000"), (1.95, "#FF6A00"), (2.25, "#FF0000"),
        (3.3, "#DC0000"), (6.0, "#C00000")]

one_row = pd.DataFrame({"k": [0]})


def to_df(pairs, field):
    days = [p[0] for p in pairs]
    return pd.DataFrame({"date": START + pd.to_timedelta(days, unit="D"),
                         field: [p[1] for p in pairs]})


x_enc = alt.X(
    "date:T",
    title=None,
    scale=alt.Scale(domain=[alt.DateTime(year=2022, month=4, date=1),
                            alt.DateTime(year=2022, month=9, date=30)]),
    axis=alt.Axis(values=[alt.DateTime(year=2022, month=m, date=1) for m in MONTH_STARTS],
                  format="%Y.%m.%d", labelAngle=0, grid=False, tickSize=5,
                  labelPadding=10, labelFlush=False, labelOverlap=False),
)

hdi_scale = alt.Scale(domain=[0, HDI_MAX])
left_axis = alt.Axis(values=Y_TICKS, title="HDI", grid=True, gridColor="#8e8e8e",
                     labelExpr="replace(format(datum.value, '.1f'), '.', ',')",
                     tickSize=5, labelPadding=6, titlePadding=9, labelFlush=False)


def right_axis(col):
    return alt.Axis(values=RAIN_TICKS, orient="right", title="napi csapadékösszeg [mm]",
                    titleAngle=270, titleBaseline="top", grid=False, tickSize=5,
                    labelPadding=7 if col == 0 else 5,
                    titlePadding=7 if col == 0 else 1, labelFlush=False)


def panel(idx):
    title = TITLES[idx]
    hdis, hdi0, hdi, rain = SERIES[idx]
    col = idx % 2
    d_s, d_0, d_h, d_r = to_df(hdis, "v"), to_df(hdi0, "v"), to_df(hdi, "v"), to_df(rain, "mm")

    m = max(v for _, v in hdi0)
    grad = alt.LinearGradient(
        gradient="linear", x1=0, x2=0, y1=1, y2=1 - HDI_MAX / m,
        stops=[alt.GradientStop(color=c, offset=v / HDI_MAX) for v, c in RAMP])

    minor = alt.Chart(pd.DataFrame({"g": Y_MINOR})).mark_rule(color="#cfcfcf", strokeWidth=1).encode(
        y=alt.Y("g:Q", scale=hdi_scale, axis=None))
    area_s = alt.Chart(d_s).mark_area(color=DARK_RED).encode(
        x=x_enc, y=alt.Y("v:Q", scale=hdi_scale, axis=left_axis))
    area_0 = alt.Chart(d_0).mark_area(color=grad).encode(
        x=x_enc, y=alt.Y("v:Q", scale=hdi_scale, axis=None))
    edge_0 = alt.Chart(d_0).mark_line(color="#F03030", strokeWidth=1).encode(
        x=x_enc, y=alt.Y("v:Q", scale=hdi_scale, axis=None))
    bars = alt.Chart(d_r).mark_bar(color=RAIN_COLOR, width=2).encode(
        x=x_enc, y=alt.Y("mm:Q", scale=alt.Scale(domain=[0, 30], clamp=True), axis=right_axis(col)))
    line = alt.Chart(d_h).mark_line(color="#000000", strokeWidth=1.6).encode(
        x=x_enc, y=alt.Y("v:Q", scale=hdi_scale, axis=None))

    ttl = alt.Chart(one_row).mark_text(font=FONT, fontSize=20, fontWeight="bold", color="#000000",
                                       align="center", baseline="alphabetic").encode(
        x=alt.value(W / 2 - 2), y=alt.value(-24), text=alt.value(title))

    leg_s = alt.Chart(one_row).mark_rect(color=DARK_RED).encode(
        x=alt.value(392), x2=alt.value(414), y=alt.value(-28), y2=alt.value(-21))
    leg_0 = alt.Chart(one_row).mark_rect(
        stroke="#FF0000", strokeWidth=1,
        fill=alt.LinearGradient(gradient="linear", x1=0, x2=0, y1=1, y2=0,
                                stops=[alt.GradientStop(color="#00B050", offset=0),
                                       alt.GradientStop(color="#92D050", offset=0.3),
                                       alt.GradientStop(color="#FFFF00", offset=0.55),
                                       alt.GradientStop(color="#FF0000", offset=0.9)])).encode(
        x=alt.value(451), x2=alt.value(475), y=alt.value(-28), y2=alt.value(-21))
    leg_h = alt.Chart(one_row).mark_rule(color="#000000", strokeWidth=1.5).encode(
        x=alt.value(512), x2=alt.value(536), y=alt.value(-24.5))
    leg_txt = [
        alt.Chart(one_row).mark_text(font=FONT, fontSize=12, align="left", baseline="alphabetic",
                                     color="#222222").encode(
            x=alt.value(xp), y=alt.value(-20.5), text=alt.value(t))
        for xp, t in [(417, "HDIS"), (477.5, "HDI0"), (538, "HDI")]
    ]

    # panel frame: top edge and left edge of each cell (as in the original grid)
    frame_top = alt.Chart(one_row).mark_rule(color=FRAME, strokeWidth=2).encode(
        x=alt.value(-61), x2=alt.value(618 if col == 0 else 602), y=alt.value(-54))
    frame_left = alt.Chart(one_row).mark_rule(color=FRAME, strokeWidth=2).encode(
        x=alt.value(-60), y=alt.value(-54), y2=alt.value(364))

    layers = [minor, area_s, area_0, edge_0, bars, line, ttl, leg_s, leg_0, leg_h] + leg_txt + [frame_top, frame_left]
    return alt.layer(*layers).resolve_scale(y="independent").properties(width=W, height=H)


chart = alt.concat(*[panel(i) for i in range(8)], columns=2, spacing=0).properties(
    padding=0
).configure_view(strokeWidth=0).configure_axis(
    labelFont=FONT, titleFont=FONT, labelFontSize=13, titleFontSize=13,
    titleFontWeight="bold", labelColor="#111111", titleColor="#111111",
    domainColor="#a6a6a6", tickColor="#a6a6a6", domainWidth=1.5,
)

chart.save("out.html", embed_options={"renderer": "svg", "actions": False})
